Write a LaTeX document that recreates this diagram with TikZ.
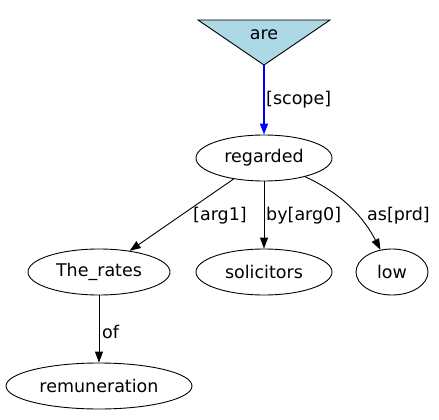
\documentclass[tikz,border=0pt]{standalone}
\usepackage{fontspec}
\setmainfont{DejaVu Sans}
\usetikzlibrary{arrows.meta,shapes.geometric}
\begin{document}
\begin{tikzpicture}[x=1pt,y=-1pt,
  font=\fontsize{17.5}{20}\selectfont,
  ell/.style={draw,ellipse,inner sep=0pt,minimum height=46pt,line width=0.9pt},
  edge/.style={-{Triangle[length=11pt,width=8pt]},line width=0.9pt},
  lbl/.style={anchor=west,inner sep=0pt}]
\useasboundingbox (0,0) rectangle (439,420);
% triangle node
\draw[fill={rgb,255:red,173;green,216;blue,230},line width=0.9pt] (198,20) -- (330,20) -- (264,65) -- cycle;
\node (are) at (264,35) {are};
\coordinate (areapex) at (264,65);
\node[ell,minimum width=136pt] (regarded) at (264,158) {regarded};
\node[ell,minimum width=142pt] (rates) at (99,272) {The\_rates};
\node[ell,minimum width=136pt] (solicitors) at (264,272) {solicitors};
\node[ell,minimum width=72pt] (low) at (392,272) {low};
\node[ell,minimum width=186pt] (remun) at (99,386) {remuneration};
\draw[edge,blue,line width=1.7pt] (areapex) -- (regarded);
\draw[edge] (regarded) -- (rates);
\draw[edge] (regarded) -- (solicitors);
\draw[edge] (regarded) .. controls (345,195) and (365,220) .. (low);
\draw[edge] (rates) -- (remun);
\node[lbl] (l1) at (266,100) {[scope]};
\node[lbl] (l2) at (193,216) {[arg1]};
\node[lbl] (l3) at (266,216) {by[arg0]};
\node[lbl] (l4) at (367,216) {as[prd]};
\node[lbl] (l5) at (102,332) {of};
\end{tikzpicture}
\end{document}
